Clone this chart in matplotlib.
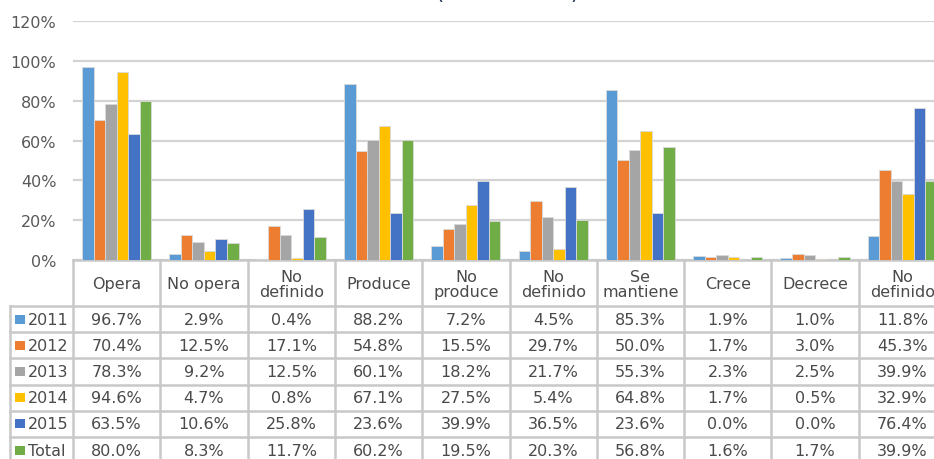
import matplotlib.pyplot as plt
import numpy as np

categorias = ['Opera', 'No opera', 'No\ndefinido', 'Produce', 'No\nproduce',
              'No\ndefinido', 'Se\nmantiene', 'Crece', 'Decrece', 'No\ndefinido']
series = ['2011', '2012', '2013', '2014', '2015', 'Total']
v2011 = [96.7, 2.9, 0.4, 88.2, 7.2, 4.5, 85.3, 1.9, 1.0, 11.8]
v2012 = [70.4, 12.5, 17.1, 54.8, 15.5, 29.7, 50.0, 1.7, 3.0, 45.3]
v2013 = [78.3, 9.2, 12.5, 60.1, 18.2, 21.7, 55.3, 2.3, 2.5, 39.9]
v2014 = [94.6, 4.7, 0.8, 67.1, 27.5, 5.4, 64.8, 1.7, 0.5, 32.9]
v2015 = [63.5, 10.6, 25.8, 23.6, 39.9, 36.5, 23.6, 0.0, 0.0, 76.4]
vtotal = [80.0, 8.3, 11.7, 60.2, 19.5, 20.3, 56.8, 1.6, 1.7, 39.9]
valores = [v2011, v2012, v2013, v2014, v2015, vtotal]
colores = ['#5B9BD5', '#ED7D31', '#A5A5A5', '#FFC000', '#4472C4', '#70AD47']
yticks = [0, 0.2, 0.4, 0.6, 0.8, 1.0, 1.2]

plt.rcParams['font.family'] = ['DejaVu Sans']

W, H = 934, 460
x0, col_w = 73, 87.3
y_top, y_base = 22, 261
head_bot, row_h = 307, 26.2
grid_c = '#C8C8C8'
txt_c = '#4A4A4A'
fs = 11.5

fig = plt.figure(figsize=(W / 100, H / 100), dpi=100)
ax = fig.add_axes([x0 / W, (H - y_base) / H, 10 * col_w / W, (y_base - y_top) / H])

n = len(categorias)
bw = 0.132
for k, vals in enumerate(valores):
    xs = np.arange(n) + 0.5 + (k - 2.5) * bw
    ax.bar(xs, np.array(vals) / 100, width=bw, color=colores[k],
           edgecolor='#DADADA', linewidth=0.6, zorder=3)

ax.set_xlim(0, n)
ax.set_ylim(0, 1.2)
ax.set_yticks(yticks)
ax.set_yticklabels([f'{int(round(t * 100))}%' for t in yticks])
ax.tick_params(axis='y', length=0, pad=12, labelsize=fs, colors='#595959')
ax.set_xticks([])
ax.grid(axis='y', color='#D3D3D3', linewidth=1.6, zorder=0)
for s in ['top', 'right', 'left']:
    ax.spines[s].set_visible(False)
ax.spines['bottom'].set_color(grid_c)
ax.spines['bottom'].set_linewidth(1.8)

# tabla de datos
ax_t = fig.add_axes([x0 / W, 0, 10 * col_w / W, (H - y_base) / H])
ax_t.set_xlim(0, n)
ax_t.set_ylim(H, y_base)
ax_t.axis('off')

x_lab = (10 - x0) / col_w   # borde izquierdo de la columna de leyenda
for i in range(n + 1):
    ax_t.plot([i, i], [y_base, H], color=grid_c, lw=1.8, clip_on=False)
ax_t.plot([x_lab, x_lab], [head_bot, H], color=grid_c, lw=1.8, clip_on=False)
for r in range(len(series) + 1):
    yy = head_bot + r * row_h
    ax_t.plot([x_lab, n], [yy, yy], color=grid_c, lw=1.8, clip_on=False)

for i, c in enumerate(categorias):
    ax_t.text(i + 0.5, (y_base + head_bot) / 2 + 1, c, ha='center', va='center',
              fontsize=fs, color=txt_c, linespacing=0.95)

for r, (nombre, vals) in enumerate(zip(series, valores)):
    yc = head_bot + (r + 0.5) * row_h
    ax_t.scatter([(20 - x0) / col_w], [yc], marker='s', s=42, color=colores[r],
                 clip_on=False, edgecolors='none')
    ax_t.text((27.5 - x0) / col_w, yc, nombre, ha='left', va='center',
              fontsize=fs, color=txt_c, clip_on=False)
    for i, v in enumerate(vals):
        ax_t.text(i + 0.5, yc, f'{v:.1f}%', ha='center', va='center',
                  fontsize=fs, color=txt_c)

fig.text(507 / W, 1 + 1.5 / H, '(2011 - 2015)', ha='center', va='baseline',
         fontsize=15, color='#1F2D4F')

fig.savefig('out.png', dpi=100)
